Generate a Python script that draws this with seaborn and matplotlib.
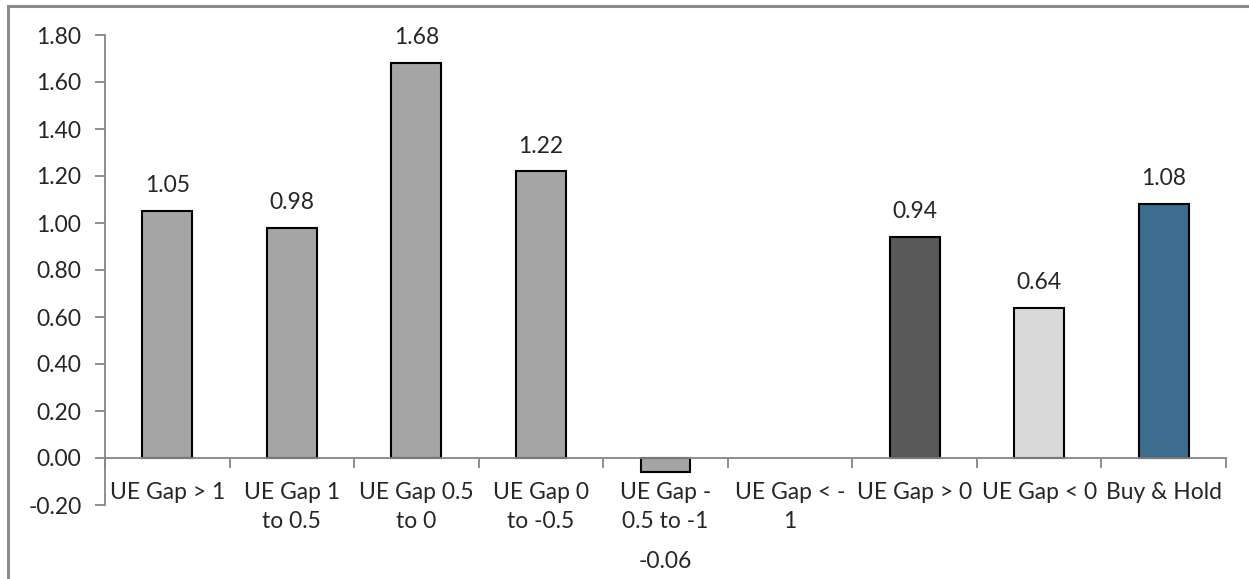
import matplotlib
matplotlib.use("Agg")
import matplotlib.pyplot as plt
import matplotlib.patches as mpatches
import numpy as np
import pandas as pd
import seaborn as sns

categories = [
    "UE Gap > 1",
    "UE Gap 1\nto 0.5",
    "UE Gap 0.5\nto 0",
    "UE Gap 0\nto -0.5",
    "UE Gap -\n0.5 to -1",
    "UE Gap < -\n1",
    "UE Gap > 0",
    "UE Gap < 0",
    "Buy & Hold",
]
values = [1.05, 0.98, 1.68, 1.22, -0.06, np.nan, 0.94, 0.64, 1.08]
bar_colors = ["#A5A5A5", "#A5A5A5", "#A5A5A5", "#A5A5A5", "#A5A5A5",
              "#A5A5A5", "#595959", "#D9D9D9", "#3C6D8E"]
y_ticks = [-0.20, 0.00, 0.20, 0.40, 0.60, 0.80, 1.00, 1.20, 1.40, 1.60, 1.80]

sns.set_style("white")
plt.rcParams["font.family"] = ["Lato", "DejaVu Sans"]
FS = 16.5

df = pd.DataFrame({"group": categories, "value": values})

fig = plt.figure(figsize=(12.49, 5.79), dpi=100)
ax = fig.add_axes([105 / 1249, 1 - 505 / 579, (1226 - 105) / 1249, (505 - 35) / 579])

sns.barplot(data=df, x="group", y="value", hue="group", palette=bar_colors,
            order=categories, hue_order=categories, legend=False,
            width=0.4, edgecolor="black", linewidth=1.5, ax=ax, saturation=1)

ax.set_ylim(-0.2, 1.8)
ax.set_xlim(-0.5, len(categories) - 0.5)
ax.set_yticks(y_ticks)
ax.set_yticklabels([f"{t:.2f}" for t in y_ticks], fontsize=FS)
ax.set_xlabel("")
ax.set_ylabel("")

axis_grey = "#868686"
for side in ["top", "right"]:
    ax.spines[side].set_visible(False)
ax.spines["left"].set_color(axis_grey)
ax.spines["left"].set_linewidth(1.3)
ax.spines["bottom"].set_position(("data", 0))
ax.spines["bottom"].set_color(axis_grey)
ax.spines["bottom"].set_linewidth(1.3)

ax.tick_params(axis="y", which="major", direction="out", length=7, width=1.3,
               color=axis_grey, left=True, pad=10)
ax.set_xticks(range(len(categories)))
ax.set_xticklabels(categories, fontsize=FS, linespacing=1.5, va="top")
ax.tick_params(axis="x", which="major", length=0, pad=17)
ax.set_xticks(np.arange(-0.5, len(categories), 1.0), minor=True)
ax.tick_params(axis="x", which="minor", direction="out", length=7, width=1.3,
               color=axis_grey, bottom=True)

# value labels
for i, v in enumerate(values):
    if np.isnan(v):
        continue
    if v >= 0:
        ax.annotate(f"{v:.2f}", (i, v), xytext=(0, 13.5), textcoords="offset points",
                    ha="center", va="baseline", fontsize=FS)
    else:
        ax.annotate(f"{v:.2f}", (i, v), xytext=(0, -69), textcoords="offset points",
                    ha="center", va="baseline", fontsize=FS)

# outer chart frame
frame = mpatches.Rectangle((8 / 1249, -0.05), 1.1, 1 - 6 / 579 + 0.05,
                           transform=fig.transFigure, fill=False,
                           edgecolor="#8C8C8C", linewidth=2.2, clip_on=False)
fig.patches.append(frame)

fig.savefig("out.png", dpi=100)
